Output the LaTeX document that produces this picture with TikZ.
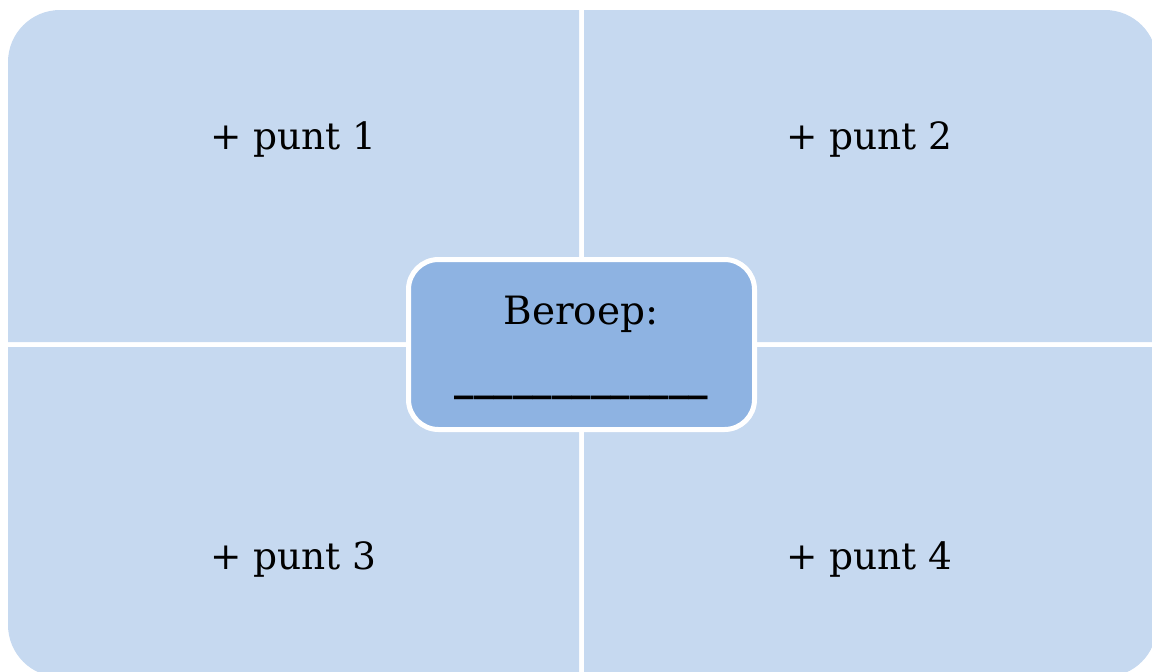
\documentclass[tikz,border=0pt]{standalone}
\usepackage{fontspec}
\setmainfont{DejaVu Serif}
\definecolor{quad}{RGB}{198,217,240}
\definecolor{hub}{RGB}{142,179,226}
\begin{document}
\begin{tikzpicture}[x=1pt,y=-1pt,
  quadfill/.style={fill=quad,draw=none},
  lbl/.style={font=\fontsize{37.5}{44}\selectfont,text=black,anchor=base,inner sep=0pt},
  hubbox/.style={draw=white,line width=5pt,fill=hub,rounded corners=30pt,minimum width=346pt,minimum height=170pt,inner sep=0pt}]
\useasboundingbox (0,0) rectangle (1152,672);
\begin{scope}
\clip (0,0) rectangle (1152,672);
% top-left
\path[quadfill] (579,10) -- (60,10) arc[start angle=-90,end angle=-180,radius=52] -- (8,342) -- (579,342) -- cycle;
% top-right
\path[quadfill] (584,10) -- (1105,10) arc[start angle=-90,end angle=0,radius=52] -- (1157,342) -- (584,342) -- cycle;
% bottom-left
\path[quadfill] (8,347) -- (8,625) arc[start angle=180,end angle=90,radius=52] -- (579,677) -- (579,347) -- cycle;
% bottom-right
\path[quadfill] (584,347) -- (1157,347) -- (1157,625) arc[start angle=0,end angle=90,radius=52] -- (584,677) -- cycle;
\end{scope}
\node[lbl] (p1) at (293.5,149) {+ punt 1};
\node[lbl] (p2) at (869.5,149) {+ punt 2};
\node[lbl] (p3) at (293.5,569) {+ punt 3};
\node[lbl] (p4) at (869.5,569) {+ punt 4};
\node[hubbox] (hub) at (581.5,344.5) {};
\node[lbl,font=\fontsize{39}{46}\selectfont] (title) at (581,324) {Beroep:};
\node[lbl,font=\bfseries\fontsize{39}{46}\selectfont] (blank) at (581.5,390) {\_\_\_\_\_\_\_\_\_\_\_\_\_};
\end{tikzpicture}
\end{document}
